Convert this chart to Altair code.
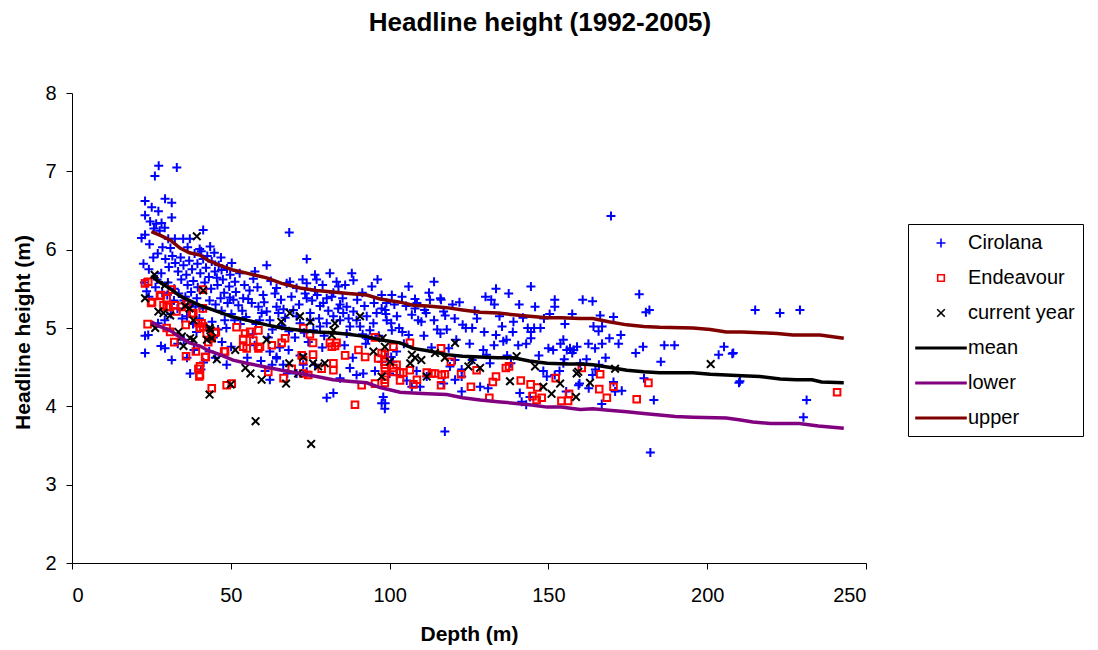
import altair as alt
import pandas as pd

# ---- series definitions -------------------------------------------------
SERIES = ["Cirolana", "Endeavour", "current year", "mean", "lower", "upper"]
COLORS = ["#0000FF", "#FF0000", "#000000", "#000000", "#800080", "#800000"]

# symbol paths (unit path scaled by sqrt(size)/2)
PLUS = "M-0.45,0L0.45,0M0,-0.45L0,0.45"
SQUARE = "M-0.33,-0.33L0.33,-0.33L0.33,0.33L-0.33,0.33Z"
CROSS = "M-0.38,-0.38L0.38,0.38M-0.38,0.38L0.38,-0.38"
BAR = "M-2.5,-0.06L2.5,-0.06L2.5,0.06L-2.5,0.06Z"
SHAPES = [PLUS, SQUARE, CROSS, BAR, BAR, BAR]

# ---- observations: (depth m, headline height m) ---------------------------
cirolana = [
    (27.3, 7.07), (33, 7.05), (26.1, 6.94), (23, 6.62), (29.3, 6.65), (31.4, 6.6),
    (25.1, 6.54), (27.2, 6.49), (23, 6.44), (31.4, 6.41), (24.6, 6.36), (26.5, 6.33),
    (28.2, 6.34), (25.8, 6.27), (27.6, 6.24), (29.2, 6.28), (23, 6.19), (21.9, 6.15),
    (24.4, 6.07), (41.3, 6.25), (30.3, 6.14), (32.4, 6.14), (35, 6.14), (37.1, 6.14),
    (28.5, 6.03), (31, 6.02), (36.4, 6.03), (40.2, 6.01), (40.7, 5.98), (43.5, 6.04),
    (22.5, 5.82), (24.2, 5.75), (25.6, 5.9), (27, 5.95), (28.1, 5.7), (29.4, 5.88),
    (30.5, 5.78), (31.6, 5.92), (32.5, 5.83), (33.4, 5.72), (34.2, 5.9), (35.1, 5.8),
    (36, 5.68), (36.9, 5.86), (37.8, 5.75), (38.6, 5.95), (39.5, 5.82), (40.4, 5.7),
    (41.3, 5.88), (42.2, 5.77), (43.1, 5.65), (44, 5.85), (45, 5.72), (46.2, 5.8),
    (47.5, 5.62), (38.2, 5.6), (36.4, 5.55), (34.4, 5.62), (32.2, 5.5), (30.2, 5.58),
    (28.4, 5.45), (26.3, 5.52), (39.6, 5.52), (41.8, 5.58), (43.8, 5.5), (45.8, 5.55),
    (47.9, 5.45), (49.5, 5.53), (33.6, 5.44), (35.7, 5.4), (37.5, 5.46), (23.5, 5.47),
    (24.2, 5.4), (35.2, 5.35), (37.3, 5.3), (39.3, 5.38), (41.2, 5.25), (43.3, 5.35),
    (45.2, 5.3), (47.1, 5.22), (49, 5.32), (33.2, 5.25), (31.1, 5.18), (29.2, 5.1),
    (27.1, 5.06), (36.2, 5.15), (38.1, 5.05), (40.1, 5.12), (42.1, 5.02), (44.1, 5.08),
    (46, 4.98), (48.1, 5.1), (50.2, 5.18), (39.2, 4.95), (46.8, 5.38), (48.6, 5.0),
    (23, 4.9), (23, 4.68), (24, 4.91), (28, 4.77), (29.3, 4.74), (31.4, 4.59),
    (35.2, 4.85), (36.2, 4.62), (37.2, 4.42), (38.4, 4.72), (40.6, 4.47), (41.4, 4.56),
    (33.3, 4.8), (43.2, 4.7), (45.1, 4.62), (47.2, 4.82), (50.1, 4.76), (44.5, 4.88),
    (48.7, 4.53),
    (42.6, 5.92), (44.8, 5.96), (46.9, 5.9), (48.8, 5.76), (45.6, 5.64), (49.8, 5.68),
    (38.9, 5.27), (34.7, 5.12), (32.1, 5.35), (30, 5.42), (26.8, 5.62), (22.8, 5.58),
    (51.6, 5.46), (52.8, 5.7), (54.3, 5.55), (55.9, 5.48), (53.6, 5.22), (51.2, 5.1),
    (68.4, 6.22), (50.3, 5.83), (61.3, 5.8), (57.6, 5.72), (57.1, 5.63), (51.3, 5.59),
    (47.1, 5.74), (68.6, 5.59), (73.9, 5.88), (76.5, 5.68), (77, 5.62), (73.9, 5.57),
    (70.7, 5.51), (64.4, 5.51), (63.9, 5.44), (67.6, 5.57), (73.4, 5.44), (73.9, 5.38),
    (83.3, 5.59), (83.9, 5.53), (88.1, 5.7), (88.6, 5.61), (86, 5.55), (94.4, 5.53),
    (97.5, 5.42), (100.7, 5.42), (80.2, 5.38), (79.1, 5.32), (82.3, 5.45), (84.4, 5.3),
    (83.8, 5.25), (85.2, 5.38), (81.8, 5.4), (76.5, 5.48), (75.6, 5.35), (78.1, 5.28),
    (77.2, 5.42),
    (49.7, 5.39), (50.8, 5.36), (53.9, 5.38), (55.5, 5.37), (56.6, 5.32), (52.4, 5.29),
    (58.7, 5.27), (59.7, 5.19), (61.3, 5.21), (64.4, 5.27), (65, 5.19), (62.3, 5.1),
    (66.6, 5.24), (67.1, 5.13), (70.7, 5.15), (69.7, 5.23), (71.8, 5.06), (75, 5.19),
    (75, 5.1), (76, 4.97), (78.1, 5.02), (84.4, 5.1), (85.4, 5.19), (86.5, 5.27),
    (88.6, 5.21), (89.6, 5.1), (92.8, 5.15), (94.9, 5.06), (95.9, 5.19), (97.5, 5.25),
    (99.1, 5.1), (100.7, 4.97), (102.3, 5.15), (93.8, 4.97), (90.7, 5.02), (87.5, 5.02),
    (86.5, 4.93), (82.3, 5.15), (80.2, 5.06), (60.5, 5.33), (54.8, 5.14), (57.9, 5.05),
    (63.1, 4.98), (68.3, 4.96), (73.1, 4.94), (79.4, 4.9), (91.5, 4.92), (96.6, 4.9),
    (53, 5.05),
    (58.4, 5.52), (60.2, 5.42), (62.6, 5.6), (65.8, 5.36), (69.1, 5.4), (71.5, 5.3),
    (72.6, 5.62), (78.9, 5.55), (80.7, 5.22), (81.2, 5.7), (89.8, 5.36), (91.4, 5.45),
    (92.1, 5.28), (95.1, 5.32), (96.2, 5.62), (98.8, 5.18), (101.5, 5.3), (103.9, 5.4),
    (56.9, 4.92), (59.1, 5.1), (66.1, 5.03), (70.2, 4.88), (74.4, 4.82), (77.8, 5.12),
    (87.1, 5.12), (93.2, 4.86), (61.8, 4.88), (65.4, 4.75),
    (64.4, 4.63), (62.3, 4.7), (64.4, 4.61), (66.5, 4.53), (63, 4.53), (62.3, 4.34),
    (71.8, 4.65), (72.8, 4.53), (70.7, 4.42), (73.9, 4.44), (76.5, 4.53), (80.2, 4.11),
    (82.3, 4.17), (84.4, 4.36), (87.5, 4.49), (89.6, 4.4), (91.7, 4.42), (95.4, 4.45),
    (97.5, 4.57), (99.1, 4.63), (102.3, 4.4), (97.5, 4.04), (98.5, 3.97), (57.5, 4.78),
    (55.2, 4.62), (59.5, 4.58), (68.2, 4.72), (78.8, 4.75), (85.8, 4.78), (92.5, 4.8),
    (88.4, 4.62), (60.8, 4.45), (67.8, 4.42),
    (106, 5.53), (114, 5.59), (133.5, 5.5), (137.5, 5.44), (144.5, 5.53), (116, 5.38),
    (116.2, 5.36), (122, 5.33), (132, 5.36), (133, 5.3), (152, 5.36), (152, 5.27),
    (145.8, 5.27), (108, 5.37), (108.6, 5.32), (112.7, 5.36), (99, 5.32), (98.6, 5.23),
    (111, 5.23), (111.5, 5.19), (108, 5.25), (107, 5.17), (100.5, 5.06), (109, 5.1),
    (110, 5.08), (114, 5.1), (117, 5.21), (117.5, 5.16), (123, 5.04), (124, 5.0),
    (126, 5.0), (103, 5.0), (104, 4.95), (106, 4.91), (115, 4.98), (116, 4.93),
    (118, 4.98), (139, 5.08), (142, 5.13), (143.5, 5.0), (144.5, 4.95), (145.5, 5.0),
    (144.5, 4.87), (147.5, 5.0), (133.5, 4.91), (136.8, 4.85), (135.8, 4.83), (140.5, 4.78),
    (143, 4.8), (150, 4.74), (151.5, 4.72), (154.7, 4.85), (156.8, 4.74), (158, 4.72),
    (159, 4.76), (160, 4.55), (159.5, 4.27), (148.4, 4.45), (149.5, 4.38), (152, 4.4),
    (129.5, 4.72), (130.5, 4.66), (126, 4.59), (131.6, 4.55), (122.7, 4.47), (122.7, 4.38),
    (119, 4.51), (120.6, 4.59), (108.5, 4.45), (111.7, 4.38), (109.6, 4.25), (100.5, 4.63),
    (101, 4.57), (100, 4.42), (98, 4.12), (98.6, 4.04), (105.4, 4.33), (107, 4.25),
    (117, 4.29), (120.6, 4.34), (122.7, 4.19), (128.5, 4.25), (131, 4.23), (141, 4.17),
    (141.6, 4.06), (143, 4.02), (144.2, 4.12), (117.4, 3.68),
    (127.5, 5.12), (129.8, 4.95), (134.6, 5.15), (138.8, 4.95), (148.6, 5.12), (155.2, 5.05),
    (157.5, 5.18), (121, 4.85), (125.2, 4.8), (113.2, 4.75), (104.5, 4.8), (147, 4.65),
    (155, 4.6), (137, 4.65), (153.5, 4.45),
    (105.2, 5.28), (112.4, 5.45), (119.8, 5.3), (120.5, 5.12), (126.8, 5.22), (130.2, 5.4),
    (135.4, 5.02), (140.8, 5.3), (150.4, 5.18), (102.2, 4.7), (110.8, 4.9), (118.6, 4.74),
    (132.9, 4.78), (138.2, 4.55),
    (169.7, 6.43), (160.8, 5.36), (163.9, 5.34), (178.6, 5.43), (180.7, 5.2), (181.8, 5.23),
    (166.3, 5.16), (170.5, 5.14), (164.2, 5.02), (166.9, 5.02), (165.8, 4.96), (172.8, 4.91),
    (169.2, 4.87), (162.6, 4.8), (166.9, 4.8), (164.7, 4.74), (172.1, 4.8), (155.8, 4.72),
    (157.5, 4.68), (153.8, 4.8), (179.8, 4.76), (177.5, 4.68), (186.5, 4.78), (189.7, 4.78),
    (185.4, 4.57), (180.1, 4.36), (183.2, 4.08), (166.8, 4.03), (182.1, 3.41), (170.5, 4.31),
    (171, 4.19), (173.1, 4.2), (162.7, 4.23), (159.8, 4.29), (155.6, 4.19), (164.8, 4.47),
    (163.9, 4.4), (165.9, 4.53), (154.7, 4.55), (168, 4.62), (162, 4.6),
    (205.3, 4.76), (203.6, 4.66), (208.2, 4.68), (210.3, 4.32), (210, 4.3), (215.1, 5.23),
    (222.9, 5.19), (229.2, 5.23), (231.3, 4.08), (230.3, 3.86), (207.9, 4.67),
]

endeavour = [
    (23, 5.57), (24, 5.59), (24.9, 5.32), (23.8, 5.05), (27.7, 5.41), (29.8, 5.38),
    (31.4, 5.49), (28.8, 5.29), (29.8, 5.27), (32.4, 5.29), (34.5, 5.27), (36.1, 5.31),
    (38.2, 5.19), (41.2, 5.25), (41.2, 5.49), (40.8, 5.06), (41.3, 5.02), (42.4, 4.93),
    (45, 4.94), (35.8, 5.04), (25.2, 5.33), (28, 5.42), (30.4, 5.27), (37.7, 5.18),
    (32.9, 5.21), (39.8, 5.06), (40.3, 5.0), (42.9, 4.82), (44, 4.87), (45.3, 4.95),
    (30.9, 4.95), (29.8, 5.0), (32.2, 4.82), (35.9, 4.64), (39, 4.7), (42.1, 4.63),
    (39.8, 4.48), (40.1, 4.38), (44, 4.23), (48.7, 4.27), (50.3, 4.29), (47.9, 4.7),
    (51.8, 5.01), (54.5, 4.93), (56.1, 4.95), (53.9, 4.86), (55, 4.74), (57.1, 4.84),
    (58.7, 4.74), (58.7, 4.97), (59.2, 4.76), (53.9, 4.76), (62.9, 4.78), (66, 4.81),
    (67.1, 4.87), (48.2, 4.7), (41.9, 4.63), (40.3, 4.51), (40.3, 4.4), (61.8, 4.44),
    (69.2, 4.48), (66.6, 4.36), (72.3, 4.65), (72.8, 4.59), (72.8, 4.42), (74.4, 4.4),
    (72.8, 5.0), (74.9, 4.92), (75.9, 4.81), (75.9, 4.66), (78.6, 4.48), (81.2, 4.81),
    (81.8, 4.76), (82.3, 4.55), (82.3, 4.46), (83.3, 4.81), (82.8, 4.77), (86, 4.65),
    (90.2, 4.72), (92.3, 4.63), (91.2, 4.27), (89.1, 4.02), (95.4, 4.88), (95.4, 4.29),
    (98.5, 4.53), (98.5, 4.38), (102.2, 4.53), (101.2, 4.44), (96.4, 4.61), (97.5, 4.68),
    (98.5, 4.34), (101.2, 4.76),
    (106.4, 4.81), (98.5, 4.66), (98.5, 4.57), (98.5, 4.49), (101.2, 4.49), (103.3, 4.43),
    (104.3, 4.43), (106.4, 4.46), (98.5, 4.3), (103.3, 4.33), (107.5, 4.28), (108.6, 4.34),
    (111.7, 4.43), (113.3, 4.42), (114.3, 4.42), (116.4, 4.4), (117.4, 4.41), (116.2, 4.27),
    (119.3, 4.57), (116.2, 4.74), (122.5, 4.41), (125.6, 4.25), (127.4, 4.46), (131.4, 4.11),
    (132.5, 4.31), (133.5, 4.38), (136.6, 4.49), (137.6, 4.51), (141.3, 4.33), (144.4, 4.28),
    (146.5, 4.24), (145, 4.13), (146.3, 4.08), (147.9, 4.11), (152.3, 4.36), (154.1, 4.07),
    (156.2, 4.07), (156.5, 4.16),
    (160.5, 4.49), (166.3, 4.41), (166, 4.22), (170.5, 4.25), (168.4, 4.11), (177.8, 4.09),
    (181.5, 4.3), (240.9, 4.18),
]

current_year = [
    (26, 5.68), (23, 5.38), (29.3, 5.55), (41.3, 5.48), (27.2, 5.21), (28.8, 5.19),
    (30.9, 5.16), (35.6, 5.28), (37, 5.25), (26.2, 5.0), (38.2, 5.1), (33.5, 4.95),
    (34.6, 4.89), (35.1, 4.77), (37.2, 4.87), (38.2, 4.85), (43.6, 4.97), (44, 4.87),
    (42.5, 4.85), (45.6, 4.6), (51.4, 4.72), (54.6, 4.49), (56.2, 4.42), (43.3, 4.15),
    (57.8, 3.81), (39.3, 6.17), (43.4, 5.0), (50, 4.28), (59.7, 4.34), (61.3, 4.85),
    (67.4, 4.29), (68.4, 4.55), (65.9, 5.08), (68.6, 5.19), (71.8, 5.15), (75, 5.08),
    (71.2, 4.42), (72.8, 4.63), (75.9, 4.55), (77.5, 4.51), (79.6, 4.55), (82.8, 5.06),
    (82.3, 4.97), (81.8, 4.91), (90.7, 5.15), (94.9, 4.7), (97.8, 4.87), (98.5, 4.76),
    (100.1, 4.57), (97.5, 4.38), (75.3, 3.52),
    (106.5, 4.55), (107, 4.66), (110, 4.59), (108, 4.62), (114.3, 4.68), (117.4, 4.62),
    (120.6, 4.81), (125.8, 4.59), (124.8, 4.51), (128.5, 4.49), (111.7, 4.38), (137.9, 4.32),
    (140, 4.64), (145.8, 4.51), (148.4, 4.25), (151, 4.16), (153.7, 4.29), (158.9, 4.42),
    (159.4, 4.44), (163.1, 4.3), (171, 4.48), (158.7, 4.12), (201.1, 4.54),
]

# ---- fitted curves: (depth m, headline height m) --------------------------
mean_curve = [
    (25, 5.67), (27, 5.6), (31, 5.5), (34, 5.41), (37, 5.35), (40.3, 5.29), (43, 5.25),
    (46.6, 5.2), (50.7, 5.14), (55, 5.1), (61.3, 5.04), (66, 5.0), (71.8, 4.97), (77, 4.95),
    (82.2, 4.94), (87, 4.92), (92.8, 4.89), (97, 4.85), (103.3, 4.81), (107.4, 4.74),
    (112, 4.71), (118, 4.66), (123, 4.64), (128.5, 4.63), (134, 4.62), (139, 4.62),
    (144, 4.58), (149.6, 4.55), (156, 4.54), (160, 4.54), (164, 4.53), (169, 4.5),
    (174.7, 4.46), (180, 4.44), (185, 4.43), (195.5, 4.43), (201, 4.41), (206, 4.4),
    (211, 4.39), (216.6, 4.38), (223, 4.35), (228, 4.34), (233, 4.34), (236, 4.31), (243, 4.3),
]
lower_curve = [
    (25, 5.08), (27, 5.03), (30.9, 4.97), (34, 4.88), (37, 4.81), (40.3, 4.77), (43, 4.71),
    (46.6, 4.66), (50.7, 4.59), (55, 4.55), (61.3, 4.5), (66, 4.46), (71.8, 4.42), (77, 4.38),
    (82.2, 4.34), (87, 4.32), (92.8, 4.3), (97, 4.24), (103.3, 4.18), (107.4, 4.17),
    (112, 4.16), (118, 4.15), (123, 4.11), (128.5, 4.08), (134, 4.06), (139, 4.04),
    (144, 4.02), (149.6, 3.99), (154, 3.99), (160, 3.96), (164, 3.97), (169, 3.95),
    (174.7, 3.93), (180, 3.91), (185, 3.89), (190, 3.87), (195.5, 3.86), (206, 3.85),
    (210, 3.83), (214.4, 3.8), (220, 3.78), (229, 3.78), (235, 3.75), (243, 3.72),
]
upper_curve = [
    (25, 6.23), (28, 6.18), (31, 6.12), (34, 6.02), (37, 5.96), (40.3, 5.93), (43, 5.86),
    (46.6, 5.8), (50.7, 5.74), (55, 5.7), (61.3, 5.64), (66, 5.57), (71.8, 5.51), (77, 5.48),
    (82.2, 5.46), (87, 5.44), (92.8, 5.42), (97, 5.37), (103.3, 5.33), (107.4, 5.29),
    (112, 5.28), (118, 5.26), (123, 5.23), (128.5, 5.2), (134, 5.19), (139, 5.17),
    (144, 5.15), (149.6, 5.13), (154, 5.13), (160, 5.12), (164, 5.12), (169, 5.08),
    (174.7, 5.04), (180, 5.02), (185, 5.01), (195.5, 5.0), (201, 4.98), (206, 4.95),
    (211, 4.95), (216.6, 4.94), (222, 4.93), (227, 4.91), (235.5, 4.91), (243, 4.87),
]

X_TICKS = [0, 50, 100, 150, 200, 250]
Y_TICKS = [2, 3, 4, 5, 6, 7, 8]


def frame(rows, name):
    return pd.DataFrame({"depth": [r[0] for r in rows],
                         "height": [r[1] for r in rows],
                         "series": name})


points = pd.concat([frame(cirolana, "Cirolana"),
                    frame(endeavour, "Endeavour"),
                    frame(current_year, "current year")], ignore_index=True)
curves = pd.concat([frame(mean_curve, "mean"),
                    frame(lower_curve, "lower"),
                    frame(upper_curve, "upper")], ignore_index=True)

FONT = "Liberation Sans"

legend = alt.Legend(
    orient="none", legendX=836, legendY=131,
    strokeColor="black", fillColor="white", padding=8,
    symbolOffset=14, labelOffset=16, rowPadding=14,
    symbolSize=400, symbolStrokeWidth=1.6,
    labelFont=FONT, labelFontSize=20, labelColor="black",
)
color = alt.Color("series:N", title=None,
                  scale=alt.Scale(domain=SERIES, range=COLORS), legend=legend)
shape = alt.Shape("series:N", title=None,
                  scale=alt.Scale(domain=SERIES, range=SHAPES), legend=legend)

x = alt.X("depth:Q", title="Depth (m)",
          scale=alt.Scale(domain=[0, 250], nice=False),
          axis=alt.Axis(values=X_TICKS, titleY=77, titleBaseline="alphabetic"))
y = alt.Y("height:Q", title="Headline height (m)",
          scale=alt.Scale(domain=[2, 8], nice=False),
          axis=alt.Axis(values=Y_TICKS, titleX=-43, titleY=239,
                        titleAlign="center", titleBaseline="alphabetic"))

scatter = alt.Chart(points).mark_point(
    filled=False, size=400, strokeWidth=2, opacity=1
).encode(x=x, y=y, color=color, shape=shape)

lines = alt.Chart(curves).mark_line(strokeWidth=3.5).encode(
    x=x, y=y, color=color
)

chart = (
    alt.layer(scatter, lines)
    .properties(
        width=794, height=470,
        padding={"left": 72, "top": 93, "right": 232, "bottom": 87},
        autosize=alt.AutoSizeParams(type="none"),
        title=alt.TitleParams(
            "Headline height (1992-2005)", font=FONT, fontSize=26,
            fontWeight="bold", color="black", anchor="middle", frame="group",
            dx=71, offset=26, baseline="alphabetic",
        ),
        background="white",
    )
    .configure_view(stroke=None)
    .configure_axis(
        grid=False, domainColor="black", tickColor="black", tickSize=6,
        labelFont=FONT, labelFontSize=20, labelColor="black",
        titleFont=FONT, titleFontSize=21, titleFontWeight="bold", titleColor="black",
    )
    .configure_axisX(labelPadding=16)
    .configure_axisY(labelPadding=10)
)

chart.save("out.html", embed_options={"renderer": "svg", "actions": False})
